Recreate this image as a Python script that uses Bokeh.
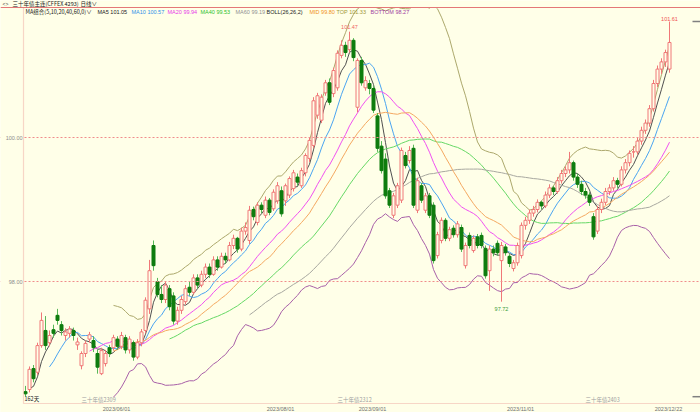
import numpy as np
import pandas as pd
from bokeh.plotting import figure
from bokeh.models import Range1d, Label, ColumnDataSource, Span, BoxAnnotation
from bokeh.embed import file_html
from bokeh.resources import INLINE

# ---------------- data (daily OHLC, 三十年债主连) ----------------
# first three bars are before the visible window (used for the averages only)
opens = [96.60, 96.50, 96.45,
96.47,96.50,96.79,96.74,97.11,97.32,97.15,97.33,97.53,97.40,
97.25,97.28,97.32,97.12,96.83,97.00,97.20,97.18,97.00,96.72,
96.86,97.08,97.08,97.20,97.10,97.22,97.05,97.15,96.95,97.15,
97.32,97.62,98.50,98.00,97.82,97.75,97.90,97.80,97.45,97.60,
97.72,97.92,97.85,98.05,97.95,98.10,98.20,98.10,98.30,98.20,
98.35,98.30,98.50,98.60,98.45,98.70,98.57,99.00,98.82,99.06,
98.92,99.13,99.01,99.12,99.26,99.12,99.20,99.29,99.45,99.33,
99.51,99.71,99.89,100.31,100.24,100.62,100.76,100.61,100.69,101.14,
101.28,101.22,101.35,100.42,101.07,100.69,100.75,100.68,100.30,99.88,
99.70,99.26,98.92,99.06,99.13,99.75,99.68,99.85,98.99,99.33,
98.99,99.19,99.06,98.36,98.57,98.85,98.60,98.74,98.65,98.75,
98.22,98.64,98.43,98.62,98.64,98.46,98.15,98.45,98.53,98.29,
98.48,98.35,98.18,98.26,98.36,98.78,98.85,98.95,99.00,99.10,
99.05,99.20,99.30,99.25,99.40,99.50,99.55,99.65,99.45,99.35,
99.25,99.20,98.90,98.70,99.00,99.10,99.25,99.30,99.40,99.35,
99.55,99.65,99.80,99.80,99.95,100.10,100.20,100.40,100.75,100.95,
101.05,100.95]
highs = [96.75, 96.62, 96.55,
96.55,96.82,96.84,97.15,97.57,97.52,97.32,97.40,97.62,97.45,
97.35,97.38,97.36,97.22,97.03,97.18,97.30,97.24,97.05,97.08,
97.05,97.12,97.26,97.24,97.30,97.26,97.24,97.18,97.20,97.34,
97.78,98.30,98.57,98.05,97.95,98.00,97.95,97.85,97.65,97.80,
97.95,98.00,98.10,98.10,98.15,98.25,98.25,98.35,98.35,98.40,
98.40,98.55,98.65,98.62,98.75,98.82,99.05,99.04,99.10,99.10,
99.18,99.16,99.28,99.38,99.32,99.36,99.46,99.55,99.50,99.58,
99.78,100.00,100.56,100.62,100.60,100.80,100.82,100.97,101.21,101.35,
101.33,101.47,101.38,101.10,101.12,100.85,100.80,100.72,100.34,99.95,
99.78,99.30,99.23,99.37,99.86,99.80,99.88,99.90,99.44,99.37,
99.23,99.23,99.10,98.69,98.89,98.88,98.76,98.78,98.84,98.79,
98.54,98.68,98.64,98.66,98.68,98.50,98.50,98.50,98.57,98.55,
98.52,98.38,98.30,98.54,98.82,98.90,99.00,99.05,99.14,99.12,
99.25,99.35,99.33,99.45,99.55,99.60,99.80,99.68,99.50,99.40,
99.30,99.24,98.95,99.05,99.15,99.30,99.35,99.45,99.44,99.60,
99.70,99.82,99.88,100.00,100.15,100.25,100.45,100.80,101.00,101.10,
101.22,101.61]
lows = [96.40, 96.35, 96.30,
96.40,96.46,96.60,96.70,97.08,97.05,97.10,97.22,97.40,97.25,
97.18,97.22,97.18,97.05,96.78,96.95,97.15,97.02,96.72,96.70,
96.82,96.95,97.04,97.05,97.06,97.00,97.00,96.90,96.92,97.10,
97.28,97.55,98.15,97.78,97.70,97.70,97.60,97.40,97.40,97.55,
97.68,97.80,97.82,97.90,97.92,98.05,98.05,98.08,98.15,98.18,
98.25,98.28,98.45,98.40,98.42,98.65,98.52,98.85,98.78,98.95,
98.88,98.92,98.98,99.08,98.90,99.05,99.16,99.25,99.33,99.30,
99.46,99.66,99.85,100.26,100.20,100.58,100.45,100.56,100.65,101.10,
101.12,101.18,101.06,100.35,100.72,100.65,100.60,100.34,99.80,99.50,
99.15,99.02,98.88,99.02,99.09,99.57,99.64,99.02,98.95,99.09,
98.95,98.88,98.25,98.32,98.53,98.56,98.56,98.61,98.61,98.41,
98.18,98.46,98.40,98.46,98.46,98.04,97.87,98.35,98.36,97.72,
98.36,98.20,98.14,98.22,98.32,98.72,98.80,98.90,98.96,99.00,
99.02,99.16,99.20,99.22,99.36,99.45,99.50,99.40,99.30,99.20,
99.15,99.05,98.58,98.66,98.95,99.06,99.20,99.26,99.30,99.32,
99.50,99.60,99.72,99.76,99.90,100.05,100.15,100.36,100.70,100.88,
100.98,100.90]
closes = [96.50, 96.45, 96.40,
96.44,96.78,96.65,97.11,97.46,97.11,97.25,97.28,97.46,97.32,
97.30,97.34,97.25,97.16,97.00,97.14,97.26,97.08,96.81,97.04,
97.00,97.00,97.22,97.10,97.25,97.05,97.20,96.95,97.15,97.30,
97.74,98.15,98.22,97.82,97.75,97.95,97.65,97.45,97.60,97.75,
97.90,97.85,98.05,97.95,98.10,98.20,98.10,98.30,98.20,98.35,
98.30,98.50,98.60,98.45,98.70,98.75,98.99,98.90,99.06,99.00,
99.13,98.96,99.24,99.33,98.94,99.33,99.43,99.51,99.38,99.54,
99.75,99.96,100.51,100.58,100.56,100.76,100.49,100.93,101.17,101.28,
101.18,101.35,101.11,101.07,100.76,100.79,100.68,100.38,99.85,99.54,
99.19,99.06,99.19,99.33,99.82,99.61,99.82,99.06,99.40,99.13,
99.19,98.92,98.29,98.65,98.85,98.60,98.72,98.65,98.80,98.45,
98.50,98.50,98.60,98.50,98.50,98.08,98.45,98.40,98.40,98.50,
98.40,98.25,98.26,98.50,98.78,98.85,98.95,99.00,99.10,99.05,
99.20,99.30,99.25,99.40,99.50,99.55,99.65,99.45,99.35,99.25,
99.20,99.10,98.62,99.00,99.10,99.25,99.30,99.40,99.35,99.55,
99.65,99.78,99.80,99.95,100.10,100.20,100.40,100.75,100.95,101.05,
101.18,101.32]

first_visible = 3          # 162 bars shown ("162天")
date_tick_idx = [26, 67, 90, 127, 164]
date_tick_labels = ["2023/06/01", "2023/08/01", "2023/09/01", "2023/11/01", "2023/12/22"]
price_ticks = [98.0, 100.0]
price_tick_labels = ["98.00", "100.00"]
contract_idx = [17, 81, 143]
contract_labels = ["三十年债2309", "三十年债2312", "三十年债2403"]
mark_idx = [84, 122, 164]
mark_values = [101.47, 97.72, 101.61]
ma_windows = [5, 10, 20, 40, 60]
boll_n = 26
legend_names = ["MA5", "MA10", "MA20", "MA40", "MA60", "BOLL(26,26,2)", "MID", "TOP", "BOTTOM"]
legend_values = ["101.05", "100.57", "99.94", "99.53", "99.19", "", "99.80", "101.33", "98.27"]

# ---------------- styles / layout ----------------
BG = "#FFFFE8"
UP = "#F07878"
DOWN_BODY = "#0E7C0E"
DOWN_WICK = "#58B858"
BORDER = "#E47878"
ma_colors = ["#505050", "#4AA4F0", "#F050F0", "#66D866", "#A8A8A0"]
mid_c, top_c, bot_c = "#F4A860", "#ACA86C", "#A860A8"
legend_colors = ["#202020", "#2E8FE8", "#E838E8", "#2CBF2C", "#909090", "#202020", "#F09020", "#A09838", "#A040A0"]
legend_x = [97, 131, 167, 200, 235, 266, 309, 336, 370]

W, H = 700, 412
PX_PER_BAR = 4.0
FIRST_BAR_PX = 25               # page x of the first visible bar
PLOT_L, PLOT_T, PLOT_B = 23, 7, 403
Y0_PAGE, Y0_VAL, PX_PER_UNIT = 137, 100.0, 72.0

def px_to_x(px):
    return first_visible + (px - FIRST_BAR_PX) / PX_PER_BAR

def py_to_y(py):
    return Y0_VAL + (Y0_PAGE - py) / PX_PER_UNIT

p = figure(width=W, height=H, output_backend="svg", toolbar_location=None,
           x_axis_type=None, y_axis_type=None,
           x_range=Range1d(px_to_x(0), px_to_x(W)), y_range=Range1d(py_to_y(H), py_to_y(0)),
           min_border_left=0, min_border_right=0, min_border_top=0, min_border_bottom=0,
           background_fill_color=BG, border_fill_color=BG)
p.outline_line_color = None
p.grid.visible = False

o = np.array(opens); h = np.array(highs); l = np.array(lows); c = np.array(closes)
idx = np.arange(len(c))

# price grid lines
for t in price_ticks:
    p.add_layout(Span(location=t, dimension="width", line_color="#F08C8C", line_dash="2 2", line_width=1))

# moving averages & BOLL (computed from the closes)
s = pd.Series(c)
for w, col in zip(ma_windows, ma_colors):
    p.line(idx, s.rolling(w).mean().to_numpy(), line_color=col, line_width=1)
mid = s.rolling(boll_n).mean()
sd = s.rolling(boll_n).std(ddof=1)
p.line(idx, mid.to_numpy(), line_color=mid_c, line_width=1)
p.line(idx, (mid + 2 * sd).to_numpy(), line_color=top_c, line_width=1)
p.line(idx, (mid - 2 * sd).to_numpy(), line_color=bot_c, line_width=1)

# candles (visible bars only)
vis = idx >= first_visible
up = c >= o
for mask, wick, fill, edge in [(up & vis, UP, BG, UP), (~up & vis, DOWN_WICK, DOWN_BODY, DOWN_BODY)]:
    src = ColumnDataSource(dict(x=idx[mask], hi=h[mask], lo=l[mask],
                                top=np.maximum(o, c)[mask], bot=np.minimum(o, c)[mask]))
    p.segment("x", "hi", "x", "lo", source=src, line_color=wick, line_width=1)
    p.vbar(x="x", width=0.75, top="top", bottom="bot", source=src,
           fill_color=fill, line_color=edge, line_width=1)

# masks outside the plotting area
xr0 = px_to_x(0)
p.add_layout(BoxAnnotation(left=xr0, right=px_to_x(PLOT_L), fill_color=BG, fill_alpha=1, line_color=None))
p.add_layout(BoxAnnotation(bottom=py_to_y(H), top=py_to_y(PLOT_B), fill_color=BG, fill_alpha=1, line_color=None))
p.add_layout(BoxAnnotation(bottom=py_to_y(PLOT_T), top=py_to_y(0), fill_color=BG, fill_alpha=1, line_color=None))

# borders: full-width top line, plot-area frame on the left and bottom
p.add_layout(Span(location=py_to_y(PLOT_T), dimension="width", line_color=BORDER, line_width=1.2))
p.add_layout(BoxAnnotation(left=px_to_x(PLOT_L), right=px_to_x(W + 4), top=py_to_y(PLOT_T),
                           bottom=py_to_y(PLOT_B), fill_alpha=0, line_color=BORDER, line_width=1.2))

# right-edge markers at the visible high / low
vis_hi, vis_lo = h[vis].max(), l[vis].min()
p.segment(x0=[px_to_x(692)] * 2, y0=[vis_hi, vis_lo], x1=[px_to_x(700)] * 2, y1=[vis_hi, vis_lo],
          line_color="#808080", line_width=1.5)

def label(px, py, text, color, size="5.5px", align="left", font="Liberation Sans"):
    p.add_layout(Label(x=px, y=H - py, x_units="screen", y_units="screen",
                       text=text, text_color=color, text_font_size=size, text_align=align,
                       text_baseline="middle", text_font=font))

def dlabel(xd, py, text, color, size="5.5px", align="center", font="Liberation Sans", xoff=0):
    p.add_layout(Label(x=xd, y=H - py, x_units="data", y_units="screen", x_offset=xoff,
                       text=text, text_color=color, text_font_size=size, text_align=align,
                       text_baseline="middle", text_font=font))

# title row (above the plotting area)
label(2, 3.5, "<>", "#404040", size="5px")
label(12, 3.5, "三十年债主连(CFFEX 4293)", "#202020", size="5.5px", font="Noto Sans CJK SC")
label(80, 3.5, "日线∨", "#202020", size="5.5px", font="Noto Sans CJK SC")
# indicator legend row
label(25, 11.5, "MA组合(5,10,20,40,60,0)∨", "#202020", size="5.5px", font="Noto Sans CJK SC")
for name, val, col, lx in zip(legend_names, legend_values, legend_colors, legend_x):
    label(lx, 11.5, (name + " " + val).strip(), col)

# price axis labels
for t, lab in zip(price_ticks, price_tick_labels):
    p.add_layout(Label(x=PLOT_L - 1, y=t, x_units="screen", y_units="data", text=lab, text_color="#8C8C8C",
                       text_font_size="5.5px", text_align="right", text_baseline="middle",
                       text_font="Liberation Sans"))

# date labels
for t, lab in zip(date_tick_idx, date_tick_labels):
    dlabel(t, 408, lab, "#707070", xoff=-1)

# contract roll labels
for t, lab in zip(contract_idx, contract_labels):
    dlabel(t, 399, lab, "#A0A0A0", align="left", font="Noto Sans CJK SC")

label(24, 398, "162天", "#202020", font="Noto Sans CJK SC")

# high / low marks
mark_cols = ["#F06464", "#3C9C3C", "#F05050"]
mark_dy = [5, -7, 3]
for i, v, col, dy in zip(mark_idx, mark_values, mark_cols, mark_dy):
    p.add_layout(Label(x=i, y=v, x_units="data", y_units="data", y_offset=dy, text=f"{v:.2f}",
                       text_color=col, text_font_size="5.5px", text_align="center",
                       text_baseline="middle", text_font="Liberation Sans"))

open("out.html", "w").write(file_html(p, INLINE))
